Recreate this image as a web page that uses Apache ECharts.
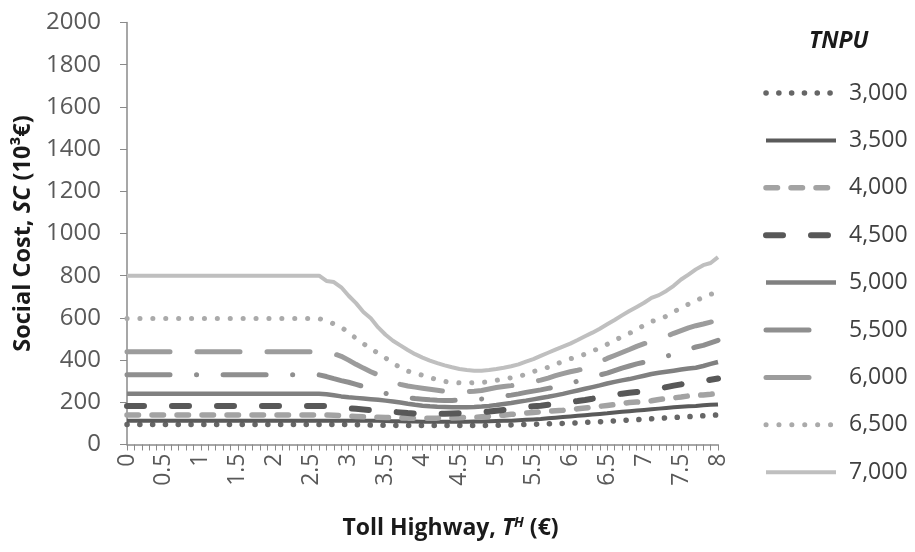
<!DOCTYPE html>
<html>
<head>
<meta charset="utf-8">
<script src="https://cdn.jsdelivr.net/npm/echarts@6/dist/echarts.min.js"></script>
<style>
html,body{margin:0;padding:0;background:#fff;}
#chart{width:915px;height:552px;}
</style>
</head>
<body>
<div id="chart"></div>
<script>
// Toll values (x axis categories, 0 to 8 step 0.1)
var categories = [
 "0","0.1","0.2","0.3","0.4","0.5","0.6","0.7","0.8","0.9",
 "1","1.1","1.2","1.3","1.4","1.5","1.6","1.7","1.8","1.9",
 "2","2.1","2.2","2.3","2.4","2.5","2.6","2.7","2.8","2.9",
 "3","3.1","3.2","3.3","3.4","3.5","3.6","3.7","3.8","3.9",
 "4","4.1","4.2","4.3","4.4","4.5","4.6","4.7","4.8","4.9",
 "5","5.1","5.2","5.3","5.4","5.5","5.6","5.7","5.8","5.9",
 "6","6.1","6.2","6.3","6.4","6.5","6.6","6.7","6.8","6.9",
 "7","7.1","7.2","7.3","7.4","7.5","7.6","7.7","7.8","7.9",
 "8"
];
var seriesNames = ["3,000","3,500","4,000","4,500","5,000","5,500","6,000","6,500","7,000"];

var s3000 = [
 95,95,95,95,95,95,95,95,95,95,
 95,95,95,95,95,95,95,95,95,95,
 95,95,95,95,95,95,95,95,95,95,
 95,94,93,92,92,91,91,90,90,90,
 90,90,90,90,90,90,90,90,90,91,
 91,92,93,94,95,96,97,98,99,100,
 101,103,105,106,108,110,112,114,116,118,
 120,122,124,126,128,130,132,134,136,138,
 140];
var s3500 = [
 112,112,112,112,112,112,112,112,112,112,
 112,112,112,112,112,112,112,112,112,112,
 112,112,112,112,112,112,112,112,112,112,
 112,112,112,112,112,111,110,110,109,109,
 108,108,108,108,108,108,108,109,109,110,
 111,112,113,115,117,119,121,124,127,130,
 133,136,139,142,145,148,152,155,158,161,
 164,167,170,173,176,179,181,183,186,188,
 190];
var s4000 = [
 140,140,140,140,140,140,140,140,140,140,
 140,140,140,140,140,140,140,140,140,140,
 140,140,140,140,140,140,140,140,139,137,
 135,133,131,130,129,128,127,126,125,125,
 125,125,125,126,126,127,128,129,131,133,
 136,139,143,146,149,152,155,158,160,162,
 165,169,173,177,181,185,189,194,199,201,
 203,207,213,218,221,225,230,233,235,238,
 242];
var s4500 = [
 183,183,183,183,183,183,183,183,183,183,
 183,183,183,183,183,183,183,183,183,183,
 183,183,183,183,183,183,183,183,180,176,
 172,169,166,163,160,157,155,152,149,147,
 146,146,146,146,147,148,149,151,153,156,
 160,164,168,172,177,181,184,188,192,197,
 202,206,211,217,224,230,236,241,245,249,
 253,258,265,272,279,285,290,295,300,307,
 313];
var s5000 = [
 240,240,240,240,240,240,240,240,240,240,
 240,240,240,240,240,240,240,240,240,240,
 240,240,240,240,240,240,240,238,233,228,
 224,221,218,215,212,208,204,199,193,188,
 184,181,179,178,177,177,177,178,180,183,
 187,192,197,203,208,214,220,226,233,240,
 248,256,264,272,280,289,297,304,310,318,
 326,334,340,345,350,355,360,364,372,382,
 391];
var s5500 = [
 330,330,330,330,330,330,330,330,330,330,
 330,330,330,330,330,330,330,330,330,330,
 330,330,330,330,330,330,330,322,312,303,
 295,285,275,262,250,242,236,228,222,218,
 215,212,210,209,209,210,212,214,216,220,
 225,229,234,240,247,253,259,266,272,280,
 290,300,310,320,330,338,350,362,372,382,
 390,400,410,418,428,440,452,462,470,482,
 494];
var s6000 = [
 440,440,440,440,440,440,440,440,440,440,
 440,440,440,440,440,440,440,440,440,440,
 440,440,440,440,440,440,440,438,430,418,
 400,380,362,345,330,315,298,285,277,272,
 267,262,257,252,250,250,250,252,256,263,
 270,275,279,284,290,298,305,315,326,336,
 345,352,360,375,392,408,422,436,450,465,
 478,488,498,512,527,540,553,563,571,580,
 589];
var s6500 = [
 597,597,597,597,597,597,597,597,597,597,
 597,597,597,597,597,597,597,597,597,597,
 597,597,597,597,597,597,597,585,572,556,
 530,503,478,455,432,410,385,365,348,338,
 328,317,307,299,294,292,292,293,294,298,
 304,311,316,321,334,346,355,366,381,393,
 406,416,428,443,457,475,494,510,527,544,
 566,584,591,608,628,648,665,680,699,712,
 722];
var s7000 = [
 800,800,800,800,800,800,800,800,800,800,
 800,800,800,800,800,800,800,800,800,800,
 800,800,800,800,800,800,800,775,770,745,
 705,670,628,598,555,520,492,470,448,428,
 412,398,386,375,366,358,353,350,350,353,
 358,364,371,380,393,405,420,435,450,464,
 478,495,513,530,549,570,590,612,633,652,
 672,695,708,728,752,782,805,830,850,860,
 888];

var seriesData = [s3000,s3500,s4000,s4500,s5000,s5500,s6000,s6500,s7000];
var styles = [
 {color:'#666666', width:5.5, type:[0.1,12.7], cap:'round'},
 {color:'#5a5a5a', width:4, type:'solid', cap:'butt'},
 {color:'#a3a3a3', width:5.5, type:[11.5,13.5], cap:'round'},
 {color:'#585858', width:6, type:[17,28], cap:'round'},
 {color:'#808080', width:4.5, type:'solid', cap:'butt'},
 {color:'#8f8f8f', width:5, type:[43,26.5,0.1,26.5], cap:'round'},
 {color:'#9c9c9c', width:5, type:[43,27], cap:'round'},
 {color:'#aaaaaa', width:5, type:[0.1,12.8], cap:'round'},
 {color:'#bfbfbf', width:4, type:'solid', cap:'butt'}
];
// legend sample patterns (the 5,500 sample shows only its first dash)
var legendTypes = [[0.1,12.7],'solid',[11.5,13.5],[17,28],'solid',[43,60],[43,60],[0.1,12.8],'solid'];

var FONT = 'Open Sans';
var series = seriesNames.map(function(n, i){
  return {
    name: n,
    type: 'line',
    data: seriesData[i],
    symbol: 'none',
    smooth: false,
    animation: false,
    color: styles[i].color,
    lineStyle: {color: styles[i].color, width: styles[i].width, type: styles[i].type, cap: styles[i].cap, join:'round'}
  };
});
var legendData = seriesNames.map(function(n, i){
  return {
    name: n,
    itemStyle: {opacity: 0},
    lineStyle: {color: styles[i].color, width: styles[i].width, type: legendTypes[i], cap: styles[i].cap}
  };
});

var chart = echarts.init(document.getElementById('chart'), null, {renderer:'canvas'});
chart.setOption({
  animation: false,
  backgroundColor: '#ffffff',
  title: {
    text: 'TNPU', left: 804, top: 25,
    textStyle: {fontFamily: FONT, fontSize: 23, fontWeight: 'bold', fontStyle: 'italic', color: '#1a1a1a'}
  },
  legend: {
    orient: 'vertical', left: 758, top: 76,
    itemWidth: 70, itemHeight: 14, itemGap: 23.4,
    itemStyle: {opacity: 0},
    textStyle: {fontFamily: FONT, fontSize: 23, color: '#404040', lineHeight: 24, padding: [0,0,0,8]},
    data: legendData
  },
  grid: {left: 127, right: 197, top: 22.5, bottom: 107.5, containLabel: false, outerBoundsMode: 'none'},
  xAxis: {
    type: 'category', data: categories, boundaryGap: false,
    axisLine: {lineStyle: {color: '#8a8a8a', width: 1.5}},
    axisTick: {interval: 0, length: 6, lineStyle: {color: '#8a8a8a'}},
    axisLabel: {interval: 4, rotate: 90, margin: 9, fontFamily: FONT, fontSize: 23, color: '#595959'},
    splitLine: {show: false},
    name: '{b|Toll Highway, }{i|T}{s|H}{b| (€)}',
    nameLocation: 'middle', nameGap: 72,
    nameTextStyle: {
      padding: [0,0,0,56],
      rich: {
        b: {fontFamily: FONT, fontSize: 23, fontWeight: 'bold', color: '#1a1a1a'},
        i: {fontFamily: FONT, fontSize: 23, fontWeight: 'bold', fontStyle: 'italic', color: '#1a1a1a'},
        s: {fontFamily: FONT, fontSize: 14, fontWeight: 'bold', fontStyle: 'italic', color: '#1a1a1a', verticalAlign: 'top', padding:[0,0,10,0]}
      }
    }
  },
  yAxis: {
    type: 'value', min: 0, max: 2000, interval: 200,
    axisLine: {show: true, lineStyle: {color: '#8a8a8a', width: 1.5}},
    axisTick: {show: true, length: 7, lineStyle: {color: '#8a8a8a'}},
    axisLabel: {margin: 26, fontFamily: FONT, fontSize: 24, color: '#595959', formatter: function(v){ return String(v); }},
    splitLine: {show: false},
    name: '{b|Social Cost, }{i|SC}{b| (10³€)}',
    nameLocation: 'middle', nameGap: 92,
    nameTextStyle: {
      rich: {
        b: {fontFamily: FONT, fontSize: 23.5, fontWeight: 'bold', color: '#1a1a1a'},
        i: {fontFamily: FONT, fontSize: 23.5, fontWeight: 'bold', fontStyle: 'italic', color: '#1a1a1a'}
      }
    }
  },
  series: series
});
</script>
</body>
</html>
